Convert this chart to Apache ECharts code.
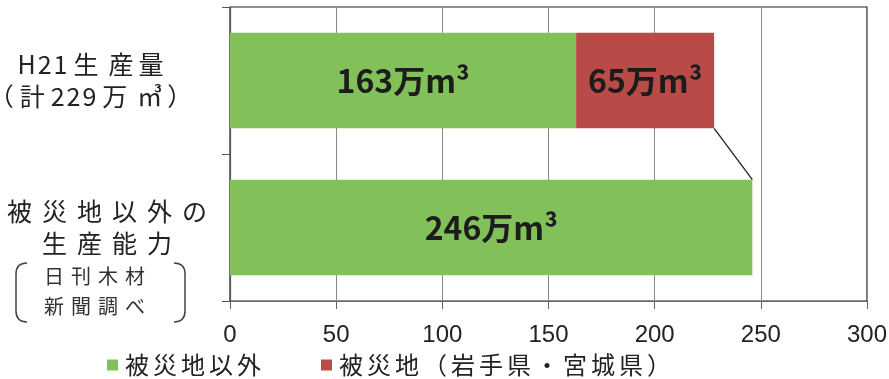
<!DOCTYPE html>
<html><head><meta charset="utf-8">
<script src="https://cdn.jsdelivr.net/npm/echarts@6/dist/echarts.min.js"></script>
<style>html,body{margin:0;padding:0;background:#fff}#c{width:889px;height:379px}</style>
</head><body><div id="c"></div>
<script>
const categories = ['H21生産量\n（計229万㎥）', '被災地以外の\n生産能力'];
const seriesNames = ['被災地以外', '被災地（岩手県・宮城県）'];
const outsideValues = [163, 246];
const disasterValues = [65, null];
const xTicks = [0, 50, 100, 150, 200, 250, 300];
const noteLines = ['日刊木材', '新聞調べ'];

const FONT = '"Noto Sans CJK JP", "Noto Sans", sans-serif';
const chart = echarts.init(document.getElementById('c'));
const barRatio = 0.65;
const connector = [[outsideValues[0] + disasterValues[0], 0, outsideValues[1], 1]];

function isWide(ch) { return /[\u3040-\u9fff\u3300-\u33ff]/.test(ch); }
// wrap each character in a rich token to emulate the wide letter spacing of the original
function spaced(str, wideKey, narrowKey, lastKey) {
  const chars = Array.from(str);
  return chars.map((ch, i) => {
    let k = isWide(ch) ? wideKey : narrowKey;
    if (i === chars.length - 1 && lastKey) k = lastKey;
    return '{' + k + '|' + ch + '}';
  }).join('');
}

function bracket(x0, x1) {
  const st = { stroke: '#444', lineWidth: 1.5, fill: null };
  return [
    { type: 'bezierCurve', shape: { x1: x0, y1: 263, x2: x1, y2: 274, cpx1: x1, cpy1: 263 }, style: st },
    { type: 'line', shape: { x1: x1, y1: 274, x2: x1, y2: 311 }, style: st },
    { type: 'bezierCurve', shape: { x1: x1, y1: 311, x2: x0, y2: 322, cpx1: x1, cpy1: 322 }, style: st }
  ];
}

const labelBase = { fontSize: 25, lineHeight: 32, color: '#222', fontFamily: FONT };
const barLabel = {
  show: true, position: 'inside', formatter: p => p.value + '万m³',
  fontSize: 32, fontWeight: 'bold', color: '#1c1c1c', fontFamily: FONT
};

chart.setOption({
  animation: false,
  backgroundColor: '#fff',
  textStyle: { fontFamily: FONT },
  grid: { left: 230, right: 22, top: 7, bottom: 78, outerBoundsMode: 'none', containLabel: false,
    show: true, borderColor: '#222', borderWidth: 1.2, backgroundColor: 'transparent' },
  legend: {
    data: seriesNames, left: 102, top: 348, itemWidth: 11, itemHeight: 11, itemGap: 60,
    icon: 'rect',
    formatter: n => spaced(n, 'w', 'w'),
    textStyle: {
      fontSize: 24, color: '#222', fontFamily: FONT,
      rich: { w: { fontSize: 24, color: '#222', fontFamily: FONT, padding: [0, 2, 0, 2] } }
    }
  },
  xAxis: {
    type: 'value', min: xTicks[0], max: xTicks[xTicks.length - 1], interval: 50,
    axisLine: { show: true, lineStyle: { color: '#666', width: 1.2 } },
    axisTick: { show: true, length: 8, lineStyle: { color: '#666' } },
    splitLine: { show: true, lineStyle: { color: '#888', width: 1 } },
    axisLabel: { fontSize: 24, color: '#222', margin: 22, fontFamily: '"Liberation Sans", Arial, sans-serif' }
  },
  yAxis: {
    type: 'category', inverse: true, data: categories,
    axisLine: { show: true, lineStyle: { color: '#555', width: 1.2 } },
    axisTick: { show: true, length: 8, lineStyle: { color: '#555' } },
    axisLabel: {
      align: 'center', margin: 123, color: '#222', fontSize: 25, lineHeight: 32,
      formatter: function (v, i) {
        const lines = v.split('\n');
        if (i === 0) return lines.map(l => spaced(l, 'w', 'n', 'l')).join('\n');
        return lines.map(l => spaced(l, 'w', 'n')).join('\n');
      },
      rich: {
        w: Object.assign({}, labelBase, { padding: [0, 5, 0, 5] }),
        n: Object.assign({}, labelBase, { padding: [0, 1, 0, 1] }),
        l: Object.assign({}, labelBase, { padding: [0, 34, 0, 0] })
      }
    }
  },
  series: [
    {
      name: seriesNames[0], type: 'bar', stack: 's', barWidth: (barRatio * 100) + '%',
      data: outsideValues, itemStyle: { color: '#82c15a' }, label: barLabel
    },
    {
      name: seriesNames[1], type: 'bar', stack: 's', barWidth: (barRatio * 100) + '%',
      data: disasterValues, itemStyle: { color: '#b84a48' }, label: barLabel
    },
    {
      type: 'custom', silent: true, z: 5,
      data: connector,
      encode: { x: [0, 2], y: [1, 3] },
      renderItem: function (params, api) {
        const p1 = api.coord([api.value(0), api.value(1)]);
        const p2 = api.coord([api.value(2), api.value(3)]);
        const bw = api.size([0, 1])[1] * barRatio;
        return {
          type: 'line',
          shape: { x1: p1[0], y1: p1[1] + bw / 2, x2: p2[0], y2: p2[1] - bw / 2 },
          style: { stroke: '#222', lineWidth: 1.3 }
        };
      }
    }
  ],
  graphic: [
    {
      type: 'text', x: 40, y: 261,
      style: {
        text: noteLines.map(l => spaced(l, 'c', 'c')).join('\n'),
        fill: '#333', lineHeight: 30, font: '20px ' + FONT,
        rich: { c: { fontSize: 20, fontFamily: FONT, fill: '#333', color: '#333', lineHeight: 30, padding: [0, 3, 0, 4] } }
      }
    }
  ].concat(bracket(27, 16), bracket(174, 185))
});
</script>
</body></html>
